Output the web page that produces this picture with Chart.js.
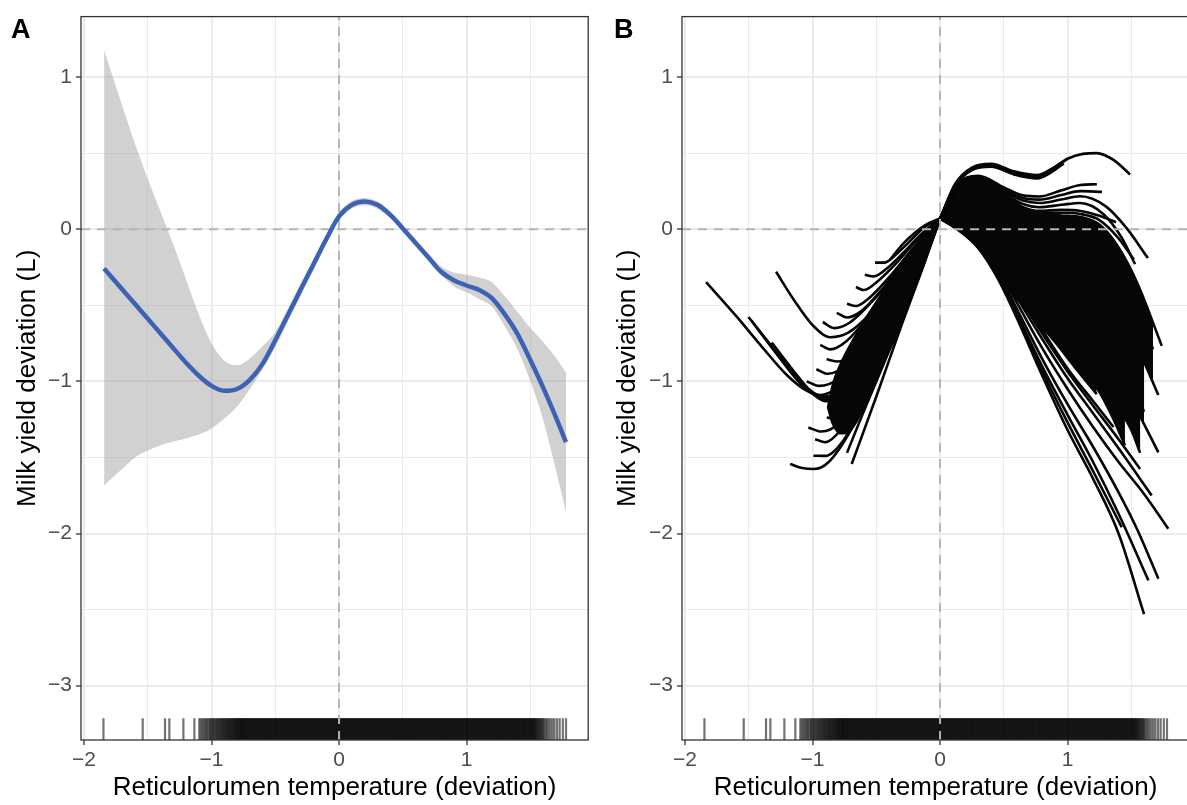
<!DOCTYPE html>
<html><head><meta charset="utf-8">
<script src="https://cdn.jsdelivr.net/npm/chart.js@4.4.0/dist/chart.umd.min.js"></script>
<style>
html,body{margin:0;padding:0;background:#fff;overflow:hidden;width:1187px;height:805px;}
#wa{position:absolute;left:0;top:0;width:600px;height:805px;}
#wb{position:absolute;left:600px;top:0;width:600px;height:805px;}
</style></head><body>
<div id="wa"><canvas id="ca" width="600" height="805"></canvas></div>
<div id="wb"><canvas id="cb" width="600" height="805"></canvas></div>
<script>
// ---------- DATA ----------
const X_TITLE = 'Reticulorumen temperature (deviation)';
const Y_TITLE = 'Milk yield deviation (L)';
const xTickLabels = ['\u22122', '\u22121', '0', '1'];
const yTickLabels = ['\u22123', '\u22122', '\u22121', '0', '1'];

// Panel A: smooth fit and confidence band
const xA = [-1.843,-1.7,-1.6,-1.5,-1.4,-1.3,-1.2,-1.1,-1.0,-0.9,-0.8,-0.7,-0.6,-0.5,-0.4,-0.3,-0.2,-0.1,0,0.1,0.2,0.3,0.4,0.5,0.6,0.7,0.8,0.9,1.0,1.1,1.2,1.3,1.4,1.5,1.6,1.7,1.78];
const fitA = [-0.258,-0.396,-0.492,-0.589,-0.685,-0.782,-0.878,-0.963,-1.03,-1.062,-1.05,-0.99,-0.885,-0.73,-0.563,-0.395,-0.23,-0.065,0.085,0.16,0.182,0.16,0.095,0.005,-0.09,-0.185,-0.28,-0.335,-0.37,-0.4,-0.455,-0.56,-0.69,-0.86,-1.04,-1.235,-1.4];
const upperA = [1.178,0.81,0.56,0.33,0.115,-0.1,-0.33,-0.56,-0.75,-0.865,-0.895,-0.85,-0.77,-0.675,-0.52,-0.355,-0.195,-0.035,0.11,0.185,0.205,0.183,0.117,0.027,-0.068,-0.162,-0.245,-0.285,-0.3,-0.318,-0.35,-0.44,-0.545,-0.65,-0.74,-0.845,-0.942];
const lowerA = [-1.685,-1.575,-1.5,-1.455,-1.42,-1.395,-1.375,-1.35,-1.31,-1.245,-1.165,-1.05,-0.92,-0.775,-0.605,-0.435,-0.265,-0.095,0.06,0.135,0.158,0.135,0.073,-0.017,-0.112,-0.208,-0.3,-0.375,-0.415,-0.46,-0.51,-0.64,-0.79,-1.0,-1.25,-1.58,-1.86];

// Panel B: outline of the region left of zero where the individual curves overlap completely
const bLeftCoreTop = [[-0.889,-1.17],[-0.85,-1.02],[-0.77,-0.85],[-0.66,-0.68],[-0.55,-0.53],[-0.44,-0.39],[-0.32,-0.24],[-0.2,-0.1],[-0.1,0.0],[0,0.07]];
const bLeftCoreBottom = [[-0.889,-1.17],[-0.85,-1.28],[-0.78,-1.35],[-0.7,-1.33],[-0.6,-1.19],[-0.45,-0.9],[-0.3,-0.59],[-0.15,-0.255],[0,0.07]];

// Panel B: individual curves, left of zero
const bLeftCurves = [
 [[-0.39,-0.2],[-0.3,-0.105],[-0.2,-0.025],[-0.1,0.035],[0,0.07]],
 [[-0.51,-0.22],[-0.44,-0.22],[-0.35,-0.17],[-0.25,-0.09],[-0.12,0.015],[0,0.07]],
 [[-0.59,-0.3],[-0.52,-0.31],[-0.42,-0.26],[-0.3,-0.165],[-0.15,-0.035],[0,0.07]],
 [[-0.66,-0.38],[-0.6,-0.4],[-0.5,-0.35],[-0.35,-0.23],[-0.18,-0.07],[0,0.07]],
 [[-0.73,-0.49],[-0.66,-0.505],[-0.56,-0.455],[-0.42,-0.335],[-0.22,-0.135],[0,0.07]],
 [[-0.81,-0.55],[-0.73,-0.58],[-0.62,-0.54],[-0.45,-0.39],[-0.25,-0.17],[0,0.07]],
 [[-0.92,-0.61],[-0.83,-0.65],[-0.71,-0.615],[-0.5,-0.445],[-0.25,-0.19],[0,0.07]],
 [[-1.286,-0.28],[-1.15,-0.46],[-1.0,-0.63],[-0.86,-0.71],[-0.72,-0.68],[-0.55,-0.555],[-0.3,-0.27],[0,0.07]],
 [[-0.94,-0.76],[-0.86,-0.79],[-0.74,-0.74],[-0.55,-0.56],[-0.3,-0.27],[0,0.07]],
 [[-0.89,-0.855],[-0.8,-0.87],[-0.66,-0.79],[-0.45,-0.56],[-0.22,-0.255],[0,0.07]],
 [[-0.97,-0.92],[-0.88,-0.95],[-0.73,-0.89],[-0.5,-0.645],[-0.25,-0.31],[0,0.07]],
 [[-1.046,-1.0],[-0.95,-1.03],[-0.8,-0.985],[-0.55,-0.725],[-0.28,-0.36],[0,0.07]],
 [[-1.835,-0.348],[-1.6,-0.57],[-1.4,-0.77],[-1.2,-0.96],[-1.05,-1.06],[-0.95,-1.09],[-0.82,-1.05],[-0.6,-0.835],[-0.3,-0.42],[0,0.07]],
 [[-1.503,-0.577],[-1.3,-0.79],[-1.1,-0.99],[-1.0,-1.07],[-0.9,-1.1],[-0.75,-1.04],[-0.55,-0.8],[-0.28,-0.43],[0,0.07]],
 [[-1.48,-0.6],[-1.3,-0.8],[-1.1,-1.01],[-0.98,-1.09],[-0.88,-1.12],[-0.72,-1.06],[-0.5,-0.77],[-0.25,-0.39],[0,0.07]],
 [[-1.32,-0.745],[-1.15,-0.93],[-1.0,-1.08],[-0.9,-1.13],[-0.78,-1.12],[-0.6,-0.935],[-0.3,-0.49],[0,0.07]],
 [[-0.92,-1.1],[-0.84,-1.12],[-0.7,-1.03],[-0.5,-0.77],[-0.25,-0.37],[0,0.07]],
 [[-0.889,-1.237],[-0.8,-1.25],[-0.66,-1.12],[-0.45,-0.8],[-0.2,-0.36],[0,0.07]],
 [[-1.033,-1.303],[-0.93,-1.33],[-0.8,-1.28],[-0.6,-1.02],[-0.35,-0.61],[0,0.07]],
 [[-0.98,-1.38],[-0.9,-1.4],[-0.78,-1.32],[-0.6,-1.06],[-0.3,-0.55],[0,0.07]],
 [[-0.993,-1.489],[-0.9,-1.49],[-0.76,-1.39],[-0.55,-1.06],[-0.3,-0.61],[0,0.07]],
 [[-1.176,-1.543],[-1.08,-1.57],[-0.99,-1.576],[-0.88,-1.535],[-0.7,-1.32],[-0.45,-0.87],[-0.2,-0.38],[0,0.07]],
 [[-0.73,-1.47],[-0.6,-1.2],[-0.45,-0.9],[-0.3,-0.59],[-0.13,-0.22],[0,0.07]],
 [[-0.693,-1.543],[-0.5,-1.1],[-0.3,-0.625],[-0.13,-0.24],[0,0.07]]
];

// Panel B: individual curves, right of zero
const bRightCurves = [
 [[0,0.07],[0.12,0.3],[0.25,0.405],[0.4,0.43],[0.58,0.38],[0.76,0.355],[0.9,0.41],[1.0,0.463],[1.12,0.495],[1.23,0.5],[1.36,0.455],[1.49,0.36]],
 [[0,0.07],[0.12,0.292],[0.25,0.397],[0.4,0.42],[0.58,0.37],[0.76,0.344],[0.9,0.4],[1.0,0.465]],
 [[0,0.07],[0.12,0.285],[0.25,0.388],[0.4,0.41],[0.58,0.36],[0.76,0.334],[0.88,0.378],[0.97,0.432]],
 [[0,0.07],[0.12,0.28],[0.3,0.35],[0.5,0.275],[0.65,0.222],[0.78,0.215],[0.95,0.255],[1.1,0.29],[1.23,0.295]],
 [[0,0.07],[0.12,0.275],[0.3,0.345],[0.5,0.262],[0.65,0.205],[0.78,0.194],[0.95,0.225],[1.1,0.25],[1.27,0.245]],
 [[0,0.07],[0.12,0.27],[0.3,0.34],[0.5,0.25],[0.65,0.188],[0.78,0.172],[0.95,0.195],[1.1,0.216],[1.3,0.15],[1.46,0.01],[1.63,-0.19]],
 [[0,0.07],[0.12,0.265],[0.3,0.335],[0.5,0.236],[0.65,0.165],[0.78,0.144],[0.95,0.16],[1.1,0.172],[1.28,0.1],[1.42,-0.05],[1.53,-0.23]],
 [[0,0.07],[0.12,0.26],[0.3,0.33],[0.5,0.225],[0.65,0.145],[0.78,0.12],[0.95,0.127],[1.1,0.12],[1.25,0.088],[1.38,0.045]],
 [[0,0.07],[0.12,0.258],[0.3,0.328],[0.5,0.22],[0.65,0.14],[0.78,0.11],[0.95,0.108],[1.1,0.1],[1.25,0.06],[1.4,-0.06],[1.52,-0.2]],
 [[0,0.07],[0.12,0.255],[0.3,0.325],[0.5,0.215],[0.65,0.135],[0.8,0.1],[0.95,0.09],[1.1,0.08],[1.25,0.03],[1.4,-0.12],[1.55,-0.36],[1.739,-0.767]],
 [[0,0.07],[0.12,0.24],[0.3,0.29],[0.5,0.17],[0.65,0.075],[0.8,0.02],[0.95,-0.01],[1.1,-0.04],[1.25,-0.11],[1.4,-0.27],[1.55,-0.5],[1.67,-0.79]],
 [[0,0.07],[0.12,0.2],[0.3,0.2],[0.5,0.07],[0.65,-0.04],[0.8,-0.13],[0.95,-0.2],[1.1,-0.27],[1.25,-0.38],[1.4,-0.55],[1.55,-0.78],[1.712,-1.09]],
 [[0,0.07],[0.12,0.17],[0.3,0.13],[0.5,-0.02],[0.65,-0.14],[0.8,-0.26],[0.95,-0.37],[1.1,-0.48],[1.25,-0.62],[1.4,-0.81],[1.6,-1.2]],
 [[0,0.07],[0.12,0.13],[0.3,0.06],[0.5,-0.11],[0.65,-0.25],[0.8,-0.39],[0.95,-0.52],[1.1,-0.65],[1.25,-0.8],[1.4,-0.98],[1.55,-1.2],[1.712,-1.467]],
 [[0,0.07],[0.12,0.09],[0.3,-0.01],[0.5,-0.2],[0.65,-0.35],[0.8,-0.5],[0.95,-0.65],[1.1,-0.8],[1.25,-0.97],[1.4,-1.17],[1.5,-1.32],[1.569,-1.47]],
 [[0,0.07],[0.12,0.05],[0.3,-0.06],[0.5,-0.29],[0.65,-0.45],[0.76,-0.56],[0.9,-0.7],[1.05,-0.85],[1.229,-1.04],[1.35,-1.23],[1.45,-1.42]],
 [[0,0.07],[0.12,0.02],[0.3,-0.1],[0.5,-0.35],[0.65,-0.5],[0.758,-0.603],[0.9,-0.74],[1.05,-0.9],[1.229,-1.084]],
 [[0,0.07],[0.15,-0.01],[0.3,-0.125],[0.45,-0.32],[0.6,-0.58],[0.8,-0.96],[1.0,-1.32],[1.2,-1.64],[1.4,-2.0],[1.6,-2.53]],
 [[0,0.07],[0.15,-0.005],[0.3,-0.115],[0.45,-0.3],[0.6,-0.55],[0.8,-0.9],[1.0,-1.22],[1.2,-1.53],[1.4,-1.87],[1.634,-2.308]],
 [[0,0.07],[0.15,0.0],[0.3,-0.105],[0.45,-0.28],[0.6,-0.52],[0.8,-0.85],[1.0,-1.15],[1.2,-1.43],[1.4,-1.73],[1.55,-1.98],[1.712,-2.297]],
 [[0,0.07],[0.15,-0.008],[0.3,-0.12],[0.45,-0.31],[0.6,-0.565],[0.8,-0.93],[1.0,-1.27],[1.2,-1.59],[1.425,-1.959]],
 [[0,0.07],[0.15,0.005],[0.3,-0.095],[0.45,-0.26],[0.6,-0.48],[0.8,-0.78],[1.0,-1.05],[1.2,-1.3],[1.4,-1.53],[1.6,-1.74],[1.79,-1.969]],
 [[0,0.07],[0.15,0.01],[0.3,-0.085],[0.45,-0.24],[0.6,-0.445],[0.8,-0.72],[1.0,-0.98],[1.2,-1.21],[1.4,-1.44],[1.66,-1.75]],
 [[0,0.07],[0.15,0.015],[0.3,-0.075],[0.45,-0.225],[0.6,-0.42],[0.8,-0.685],[1.0,-0.935],[1.2,-1.16],[1.4,-1.38],[1.569,-1.576]],
 [[0,0.07],[0.15,0.02],[0.3,-0.065],[0.45,-0.21],[0.6,-0.4],[0.8,-0.66],[1.0,-0.915],[1.2,-1.13],[1.36,-1.3]]
];

// Rug: observed temperature deviations (same observations in both panels)
const rugX = [-1.848,-1.54,-1.365,-1.331,-1.221,-1.135,-1.096,-1.085,-1.072,-1.063,-1.051,-1.04,-1.033,-1.021,-1.012,-1.003,-0.994,-0.987,-0.978,-0.97,-0.962,-0.955,-0.947,-0.94,-0.932,-0.925,-0.918,-0.911,-0.904,-0.898,-0.891,-0.885,-0.878,-0.872,-0.866,-0.86,-0.854,-0.848,-0.842,-0.836,-0.83,-0.825,-0.819,-0.814,-0.808,-0.803,-0.798,-0.793,-0.788,-0.783,-0.778,-0.773,-0.768,-0.763,-0.759,
-0.755,-0.75,-0.745,-0.74,-0.735,-0.73,-0.725,-0.72,-0.715,-0.71,-0.705,
-0.7,-0.695,-0.69,-0.685,-0.68,-0.675,-0.67,-0.665,-0.66,-0.655,-0.65,-0.645,-0.64,-0.635,-0.63,-0.625,-0.62,-0.615,-0.61,-0.605,
-0.6,-0.595,-0.59,-0.585,-0.58,-0.575,-0.57,-0.565,-0.56,-0.555,-0.55,-0.545,-0.54,-0.535,-0.53,-0.525,-0.52,-0.515,-0.51,-0.505,
-0.5,-0.495,-0.49,-0.485,-0.48,-0.475,-0.47,-0.465,-0.46,-0.455,-0.45,-0.445,-0.44,-0.435,-0.43,-0.425,-0.42,-0.415,-0.41,-0.405,
-0.4,-0.395,-0.39,-0.385,-0.38,-0.375,-0.37,-0.365,-0.36,-0.355,-0.35,-0.345,-0.34,-0.335,-0.33,-0.325,-0.32,-0.315,-0.31,-0.305,
-0.3,-0.295,-0.29,-0.285,-0.28,-0.275,-0.27,-0.265,-0.26,-0.255,-0.25,-0.245,-0.24,-0.235,-0.23,-0.225,-0.22,-0.215,-0.21,-0.205,
-0.2,-0.195,-0.19,-0.185,-0.18,-0.175,-0.17,-0.165,-0.16,-0.155,-0.15,-0.145,-0.14,-0.135,-0.13,-0.125,-0.12,-0.115,-0.11,-0.105,
-0.1,-0.095,-0.09,-0.085,-0.08,-0.075,-0.07,-0.065,-0.06,-0.055,-0.05,-0.045,-0.04,-0.035,-0.03,-0.025,-0.02,-0.015,-0.01,-0.005,
0,0.005,0.01,0.015,0.02,0.025,0.03,0.035,0.04,0.045,0.05,0.055,0.06,0.065,0.07,0.075,0.08,0.085,0.09,0.095,
0.1,0.105,0.11,0.115,0.12,0.125,0.13,0.135,0.14,0.145,0.15,0.155,0.16,0.165,0.17,0.175,0.18,0.185,0.19,0.195,
0.2,0.205,0.21,0.215,0.22,0.225,0.23,0.235,0.24,0.245,0.25,0.255,0.26,0.265,0.27,0.275,0.28,0.285,0.29,0.295,
0.3,0.305,0.31,0.315,0.32,0.325,0.33,0.335,0.34,0.345,0.35,0.355,0.36,0.365,0.37,0.375,0.38,0.385,0.39,0.395,
0.4,0.405,0.41,0.415,0.42,0.425,0.43,0.435,0.44,0.445,0.45,0.455,0.46,0.465,0.47,0.475,0.48,0.485,0.49,0.495,
0.5,0.505,0.51,0.515,0.52,0.525,0.53,0.535,0.54,0.545,0.55,0.555,0.56,0.565,0.57,0.575,0.58,0.585,0.59,0.595,
0.6,0.605,0.61,0.615,0.62,0.625,0.63,0.635,0.64,0.645,0.65,0.655,0.66,0.665,0.67,0.675,0.68,0.685,0.69,0.695,
0.7,0.705,0.71,0.715,0.72,0.725,0.73,0.735,0.74,0.745,0.75,0.755,0.76,0.765,0.77,0.775,0.78,0.785,0.79,0.795,
0.8,0.805,0.81,0.815,0.82,0.825,0.83,0.835,0.84,0.845,0.85,0.855,0.86,0.865,0.87,0.875,0.88,0.885,0.89,0.895,
0.9,0.905,0.91,0.915,0.92,0.925,0.93,0.935,0.94,0.945,0.95,0.955,0.96,0.965,0.97,0.975,0.98,0.985,0.99,0.995,
1.0,1.005,1.01,1.015,1.02,1.025,1.03,1.035,1.04,1.045,1.05,1.055,1.06,1.065,1.07,1.075,1.08,1.085,1.09,1.095,
1.1,1.105,1.11,1.115,1.12,1.125,1.13,1.135,1.14,1.145,1.15,1.155,1.16,1.165,1.17,1.175,1.18,1.185,1.19,1.195,
1.2,1.205,1.21,1.215,1.22,1.225,1.23,1.235,1.24,1.245,1.25,1.255,1.26,1.265,1.27,1.275,1.28,1.285,1.29,1.295,
1.3,1.305,1.31,1.315,1.32,1.325,1.33,1.335,1.34,1.345,1.35,1.355,1.36,1.365,1.37,1.375,1.38,1.385,1.39,1.395,
1.4,1.405,1.41,1.415,1.42,1.425,1.43,1.435,1.44,1.445,1.45,1.455,1.46,1.465,1.47,1.475,1.48,1.485,1.49,1.495,
1.5,1.505,1.51,1.515,1.52,1.525,1.53,
1.535,1.54,1.546,1.552,1.558,1.565,1.571,1.578,1.585,1.593,1.6,1.61,1.62,1.632,1.645,1.66,1.675,1.69,1.71,1.73,1.755,1.78];

// ---------- AXES / STYLE ----------
const X_MIN = -2.024, X_MAX = 1.954, Y_MIN = -3.357, Y_MAX = 1.397;
const FONT = "'Liberation Sans', Arial, Helvetica, sans-serif";
const isMajor = v => Math.abs(v - Math.round(v)) < 1e-6;
const labelFor = (v, labels) => {
  const r = Math.round(v);
  const s = r < 0 ? '\u2212' + (-r) : String(r);
  return labels.includes(s) ? s : '';
};
const pts = arr => arr.map(p => ({x: p[0], y: p[1]}));
const baseLine = o => Object.assign({
  pointRadius: 0, pointHoverRadius: 0, pointHitRadius: 0,
  fill: false, cubicInterpolationMode: 'monotone', borderCapStyle: 'butt'
}, o);

function dashDatasets() {
  return [
    baseLine({data: [{x: X_MIN, y: 0}, {x: X_MAX, y: 0}], borderColor: '#b5b5b5', borderWidth: 2, borderDash: [9, 7], cubicInterpolationMode: 'default'}),
    baseLine({data: [{x: 0, y: Y_MIN}, {x: 0, y: Y_MAX}], borderColor: '#b5b5b5', borderWidth: 2, borderDash: [9, 7], cubicInterpolationMode: 'default'})
  ];
}
function rugDataset() {
  const lo = Y_MIN, hi = Y_MIN + 0.03 * (Y_MAX - Y_MIN);
  const d = [];
  rugX.forEach(v => { d.push({x: v, y: lo}, {x: v, y: hi}, {x: v, y: null}); });
  return baseLine({data: d, borderColor: 'rgba(0,0,0,0.55)', borderWidth: 2.2, spanGaps: false,
    cubicInterpolationMode: 'default', segment: {}});
}
function gridOpts() {
  return {
    color: '#ebebeb',
    lineWidth: c => (c.tick && isMajor(c.tick.value)) ? 2 : 1,
    drawTicks: true, tickLength: 5,
    tickColor: c => (c.tick && isMajor(c.tick.value)) ? '#333333' : 'rgba(0,0,0,0)',
    tickWidth: 1.3
  };
}
function framePlugin(label, lx) {
  return {
    id: 'frame' + label,
    afterDatasetsDraw(chart) {
      const {ctx, chartArea: a} = chart;
      ctx.save(); ctx.strokeStyle = '#333333'; ctx.lineWidth = 1.3;
      ctx.strokeRect(a.left, a.top, a.right - a.left, a.bottom - a.top); ctx.restore();
    },
    afterDraw(chart) {
      const ctx = chart.ctx;
      ctx.save(); ctx.fillStyle = '#000'; ctx.font = 'bold 27px ' + FONT;
      ctx.textBaseline = 'alphabetic'; ctx.fillText(label, lx, 38); ctx.restore();
    }
  };
}
function makeChart(id, datasets, yWidth, padRight, label, lx) {
  const tickFont = {family: FONT, size: 21};
  const titleFont = {family: FONT, size: 26};
  return new Chart(document.getElementById(id), {
    type: 'line',
    data: {datasets},
    options: {
      responsive: false, animation: false, events: [],
      layout: {padding: {top: 15, right: padRight, left: 0, bottom: 0}},
      plugins: {legend: {display: false}, tooltip: {enabled: false}},
      scales: {
        x: {type: 'linear', position: 'bottom', min: X_MIN, max: X_MAX,
          afterFit: s => { s.height = 65; },
          grid: gridOpts(), border: {display: false},
          ticks: {stepSize: 0.5, includeBounds: false, autoSkip: false, maxRotation: 0, minRotation: 0,
            padding: 3, color: '#4d4d4d', font: tickFont, callback: v => isMajor(v) ? labelFor(v, xTickLabels) : ''},
          title: {display: true, text: X_TITLE, color: '#000', font: titleFont, padding: {top: 0, bottom: 2}}},
        y: {type: 'linear', position: 'left', min: Y_MIN, max: Y_MAX,
          afterFit: s => { s.width = yWidth; },
          grid: gridOpts(), border: {display: false},
          ticks: {stepSize: 0.5, includeBounds: false, autoSkip: false,
            padding: 4, color: '#4d4d4d', font: tickFont, callback: v => isMajor(v) ? labelFor(v, yTickLabels) : ''},
          title: {display: true, text: Y_TITLE, color: '#000', font: titleFont, padding: {top: 12, bottom: 0}}}
      }
    },
    plugins: [framePlugin(label, lx)]
  });
}

// ---------- PANEL A ----------
const dsA = [
  baseLine({data: xA.map((x, i) => ({x, y: fitA[i]})), borderColor: '#3d62b3', borderWidth: 4.5}),
  ...dashDatasets(),
  baseLine({data: xA.map((x, i) => ({x, y: upperA[i]})), borderWidth: 0, borderColor: 'rgba(0,0,0,0)',
    fill: '+1', backgroundColor: 'rgba(153,153,153,0.45)'}),
  baseLine({data: xA.map((x, i) => ({x, y: lowerA[i]})), borderWidth: 0, borderColor: 'rgba(0,0,0,0)'}),
  rugDataset()
];
makeChart('ca', dsA, 81, 11.8, 'A', 11);

// ---------- PANEL B ----------
const CURVE_COLOR = '#060606';
// consecutive right-hand curves whose gaps are completely covered
const rightFillChain = [9, 10, 11, 12, 13, 14, 15, 16];
const dsB = [...dashDatasets()];
const coreIdx = dsB.length;
dsB.push(baseLine({data: pts(bLeftCoreTop), borderWidth: 0, borderColor: 'rgba(0,0,0,0)',
  fill: coreIdx + 1, backgroundColor: CURVE_COLOR}));
dsB.push(baseLine({data: pts(bLeftCoreBottom), borderWidth: 0, borderColor: 'rgba(0,0,0,0)'}));
bLeftCurves.forEach(c => {
  dsB.push(baseLine({data: pts(c), borderColor: CURVE_COLOR, borderWidth: 2.6}));
});
const rightOffset = dsB.length;
bRightCurves.forEach((c, i) => {
  const k = rightFillChain.indexOf(i);
  const tgt = (k >= 0 && k < rightFillChain.length - 1) ? rightOffset + rightFillChain[k + 1] : false;
  dsB.push(baseLine({data: pts(c), borderColor: CURVE_COLOR, borderWidth: 2.6,
    fill: tgt, backgroundColor: CURVE_COLOR}));
});
dsB.push(rugDataset());
makeChart('cb', dsB, 82, 10.8, 'B', 14);
</script>
</body></html>
